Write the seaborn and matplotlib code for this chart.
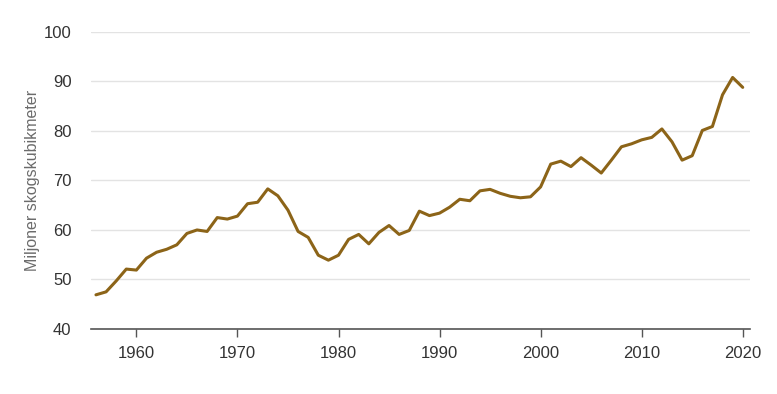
import matplotlib
matplotlib.use("Agg")
import matplotlib.pyplot as plt
import seaborn as sns
import pandas as pd

years = list(range(1956, 2021))
volume = [
    46.9, 47.5, 49.7, 52.1, 51.9, 54.3, 55.5, 56.1, 57.0, 59.3,
    60.0, 59.7, 62.5, 62.2, 62.8, 65.3, 65.6, 68.3, 66.9, 64.0,
    59.7, 58.5, 54.9, 53.9, 54.9, 58.1, 59.1, 57.2, 59.5, 60.9,
    59.1, 59.9, 63.8, 62.9, 63.4, 64.6, 66.2, 65.9, 67.9, 68.2,
    67.4, 66.8, 66.5, 66.7, 68.7, 73.3, 73.9, 72.8, 74.6, 73.1,
    71.5, 74.1, 76.8, 77.4, 78.2, 78.7, 80.4, 77.8, 74.1, 75.0,
    80.1, 80.9, 87.3, 90.8, 88.8,
]
y_ticks = [40, 50, 60, 70, 80, 90, 100]
x_ticks = [1960, 1970, 1980, 1990, 2000, 2010, 2020]

df = pd.DataFrame({"year": years, "volume": volume})

sns.set_theme(style="white")
plt.rcParams['font.family'] = ['Liberation Sans', 'DejaVu Sans']

fig = plt.figure(figsize=(7.77, 3.94), dpi=100)
ax = fig.add_axes([0.117, 0.165, 0.848, 0.754])

sns.lineplot(data=df, x="year", y="volume", ax=ax, color="#8c6418", linewidth=2.2)

ax.set_xlim(1955.5, 2020.7)
ax.set_ylim(40, 100)
ax.set_yticks(y_ticks)
ax.set_xticks(x_ticks)
ax.yaxis.grid(True, color="#e3e3e3", linewidth=1)
ax.set_axisbelow(True)

for side in ["top", "right", "left"]:
    ax.spines[side].set_visible(False)
ax.spines["bottom"].set_color("#555555")
ax.spines["bottom"].set_linewidth(1.2)

ax.tick_params(axis="y", length=0, pad=14, labelsize=12, labelcolor="#333333")
ax.tick_params(axis="x", length=6, width=1, color="#555555", direction="out",
               pad=6, labelsize=12, labelcolor="#333333", bottom=True)

ax.set_xlabel("")
ax.set_ylabel("Miljoner skogskubikmeter", fontsize=11.5, color="#6b6b6b", labelpad=2.5)

fig.savefig("out.png", dpi=100)
